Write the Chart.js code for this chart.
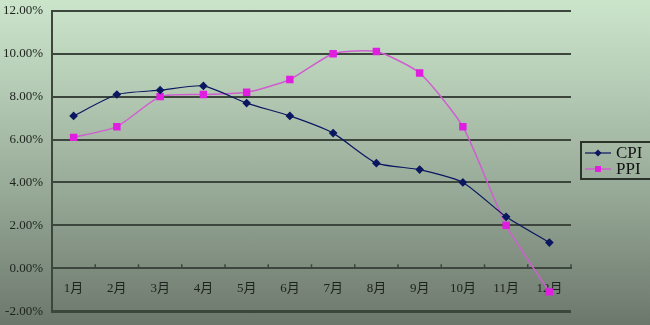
<!DOCTYPE html>
<html>
<head>
<meta charset="utf-8">
<script src="https://cdn.jsdelivr.net/npm/chart.js@4"></script>
<style>
  html, body { margin: 0; padding: 0; }
  body { width: 650px; height: 325px; overflow: hidden;
         background: linear-gradient(to bottom, #cbe5cb 0%, #b2c8b2 30%, #96a896 60%, #6c776c 100%); }
  #wrap { position: relative; width: 650px; height: 325px; overflow: hidden; }
  #c { position: absolute; left: 0; top: -6px; }
</style>
</head>
<body>
<div id="wrap"><canvas id="c" width="650" height="334"></canvas></div>
<script>
const months = ['1月','2月','3月','4月','5月','6月','7月','8月','9月','10月','11月','12月'];
const cpi = [7.1, 8.1, 8.3, 8.5, 7.7, 7.1, 6.3, 4.9, 4.6, 4.0, 2.4, 1.2];
const ppi = [6.1, 6.6, 8.0, 8.1, 8.2, 8.8, 10.0, 10.1, 9.1, 6.6, 2.0, -1.1];
const seriesNames = ['CPI', 'PPI'];
const yMin = -2, yMax = 12, yStep = 2;

const gridColor = '#3c463c';
const textColor = '#1c221c';
const cpiColor = '#0b1760';
const ppiLine = '#cf5fcf';
const ppiPoint = '#e01ee0';

const axisTicksPlugin = {
  id: 'axisTicks',
  afterDraw(chart) {
    const xs = chart.scales.x, ys = chart.scales.y;
    const ctx = chart.ctx;
    const y0 = ys.getPixelForValue(0);
    const n = months.length;
    ctx.save();
    ctx.strokeStyle = gridColor;
    ctx.lineWidth = 1.5;
    for (let i = 1; i <= n; i++) {
      const x = xs.left + i * (xs.width / n);
      ctx.beginPath();
      ctx.moveTo(x, y0);
      ctx.lineTo(x, y0 - 4);
      ctx.stroke();
    }
    ctx.restore();
  }
};

const boxLegendPlugin = {
  id: 'boxLegend',
  afterDraw(chart) {
    const ctx = chart.ctx;
    const ca = chart.chartArea;
    const bx = ca.right + 10, by = 148, bw = 70, bh = 37;
    ctx.save();
    ctx.strokeStyle = '#2a322a';
    ctx.lineWidth = 2;
    ctx.strokeRect(bx, by, bw, bh);
    ctx.font = '17px "Liberation Serif", "DejaVu Serif", serif';
    ctx.textBaseline = 'middle';
    ctx.textAlign = 'left';
    chart.data.datasets.forEach((ds, i) => {
      const cy = by + 11 + i * 16;
      const mx = bx + 17;
      ctx.strokeStyle = ds.borderColor;
      ctx.lineWidth = ds.borderWidth;
      ctx.beginPath();
      ctx.moveTo(bx + 4, cy);
      ctx.lineTo(bx + 30, cy);
      ctx.stroke();
      ctx.fillStyle = ds.pointBackgroundColor;
      ctx.beginPath();
      if (ds.pointStyle === 'rect') {
        const s = ds.pointRadius * Math.SQRT1_2;
        ctx.rect(mx - s, cy - s, 2 * s, 2 * s);
      } else {
        const r = ds.pointRadius;
        ctx.moveTo(mx, cy - r); ctx.lineTo(mx + r, cy);
        ctx.lineTo(mx, cy + r); ctx.lineTo(mx - r, cy); ctx.closePath();
      }
      ctx.fill();
      ctx.fillStyle = '#111';
      ctx.fillText(ds.label, bx + 35, cy + 1);
    });
    ctx.restore();
  }
};

new Chart(document.getElementById('c'), {
  type: 'line',
  data: {
    labels: months,
    datasets: [
      { label: seriesNames[0], data: cpi, borderColor: cpiColor, borderWidth: 1.2,
        pointStyle: 'rectRot', pointRadius: 3.5, pointBackgroundColor: cpiColor, pointBorderColor: cpiColor,
        tension: 0.2, fill: false },
      { label: seriesNames[1], data: ppi, borderColor: ppiLine, borderWidth: 1.5,
        pointStyle: 'rect', pointRadius: 4.2, pointBackgroundColor: ppiPoint, pointBorderColor: ppiPoint,
        tension: 0.2, fill: false }
    ]
  },
  options: {
    responsive: false,
    animation: false,
    layout: { padding: { left: 0, top: 4, right: 79, bottom: 11 } },
    plugins: { legend: { display: false }, tooltip: { enabled: false } },
    scales: {
      x: {
        type: 'category',
        offset: true,
        position: { y: 0 },
        grid: { display: false },
        border: { display: true, color: gridColor, width: 2 },
        ticks: { color: textColor, padding: 4, maxRotation: 0,
                 font: { family: '"Liberation Serif", "Noto Sans CJK SC", serif', size: 13 } }
      },
      y: {
        min: yMin, max: yMax,
        afterFit(scale) { scale.width = 52; },
        grid: { color: gridColor, lineWidth: (c) => (c.tick && c.tick.value === yMin ? 3 : 2), drawTicks: false },
        border: { display: true, color: gridColor, width: 2 },
        ticks: { stepSize: yStep, color: textColor, padding: 9,
                 font: { family: '"Liberation Serif", "DejaVu Serif", serif', size: 13 },
                 callback: (v) => v.toFixed(2) + '%' }
      }
    }
  },
  plugins: [axisTicksPlugin, boxLegendPlugin]
});
</script>
</body>
</html>
